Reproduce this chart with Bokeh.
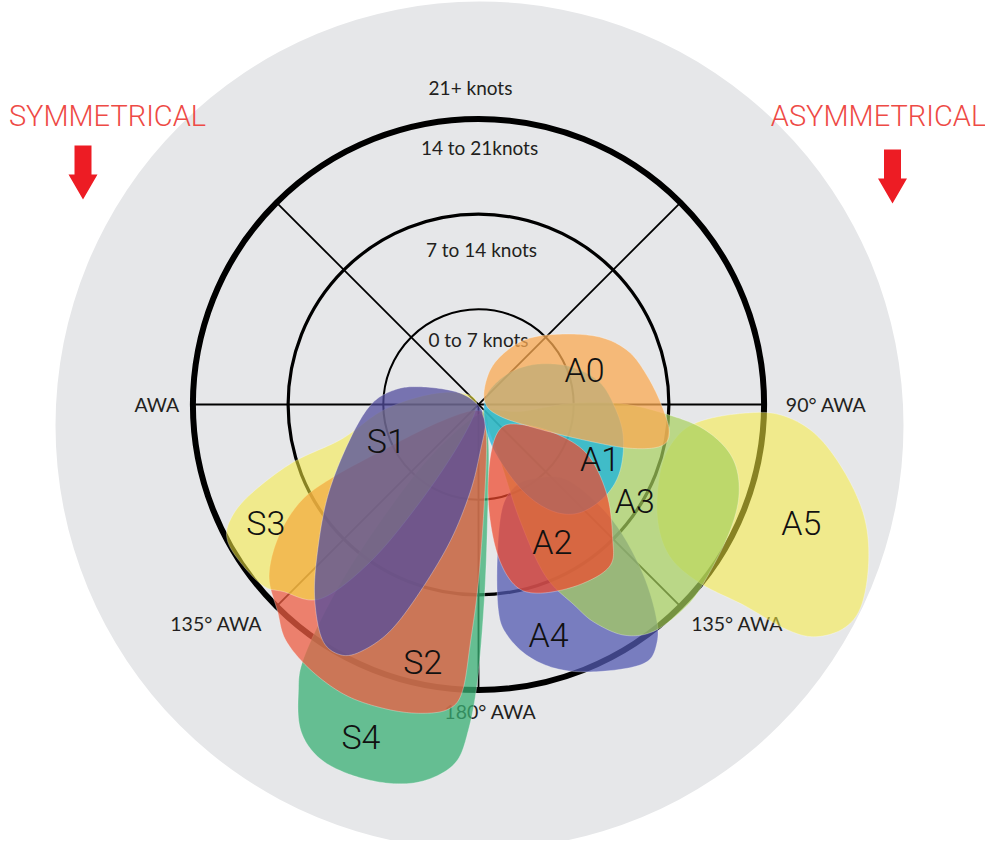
import numpy as np
from bokeh.plotting import figure
from bokeh.models import Range1d
from bokeh.core.properties import value
from bokeh.embed import file_html
from bokeh.resources import INLINE

# ---------------- data ----------------
PX_PER_KNOT = 13.6
RING_KNOTS = [7, 14, 21]
RING_WIDTHS = [2, 3.2, 6]

RING_LABELS = ["0 to 7 knots", "7 to 14 knots", "14 to 21knots", "21+ knots"]
RING_LABEL_KNOTS = [4.8, 11.4, 18.9, 23.3]
RING_LABEL_DX = [0, 3, 1, -8]

# spokes: (side, awa) -> (side, awa)   side +1 = asymmetrical (right), -1 = symmetrical (left)
SPOKES = [((-1, 90), (1, 90)), ((1, 45), (-1, 135)), ((-1, 45), (1, 135)), ((1, 0.0001), (1, 180))]
SPOKE_FROM_CENTER = [False, False, False, True]

AWA_LABELS = ["AWA", "90° AWA", "135° AWA", "135° AWA", "180° AWA"]
AWA_LABEL_SIDE = [-1, 1, -1, 1, 1]
AWA_LABEL_AWA = [90, 90, 129.8, 130.2, 177.8]
AWA_LABEL_KNOTS = [22.0, 22.6, 25.1, 24.9, 22.6]
AWA_LABEL_ALIGN = ["right", "left", "center", "center", "center"]

# sail envelopes: apparent wind angle (deg) and true wind speed (knots)
A0_AWA = [63, 17.8, 24.6, 35.9, 49.1, 60.9, 70.5, 80.6, 90.6, 98.6, 103, 106.1, 108.3, 111.9, 118.6]
A0_TWS = [0.5, 2.2, 3.9, 5.9, 7.9, 10.2, 11.7, 12.6, 13.5, 14.2, 13.7, 11.6, 8.6, 4.9, 1.8]

A1_AWA = [63, 39, 46.6, 56.5, 67.6, 79.1, 90.8, 102.4, 115.3, 125.9, 136.9, 145, 152.2, 158.9, 163.5]
A1_TWS = [0.5, 2.0, 3.7, 5.4, 7.3, 9.0, 10.0, 10.9, 11.5, 11.5, 10.9, 9.6, 7.4, 4.5, 2.1]

A2_AWA = [137.5, 115.5, 110.6, 114.6, 124.9, 134.8, 140.8, 150.5, 161.8, 168.5, 172.8, 174.3, 167]
A2_TWS = [2.4, 3.4, 6.0, 8.8, 11.5, 13.9, 15.3, 15.2, 14.6, 13.6, 11.1, 7.4, 3.9]

A3_AWA = [130, 99.5, 89.4, 89.6, 92.8, 96.3, 101.6, 108.4, 116.7, 127.9, 134, 142, 147.6, 151.9,
          154.4, 158.7, 160.3, 158.9, 157.8]
A3_TWS = [0.6, 3.1, 6.7, 10.4, 13.7, 16.7, 19.0, 20.2, 20.7, 21.1, 21.3, 21.1, 20.1, 18.2,
          16.4, 13.5, 9.1, 4.5, 1.7]

A4_AWA = [167, 155.7, 143.4, 131, 129.7, 131.8, 135.9, 140, 143.2, 147.2, 154.6, 162.3, 168.4, 172.9, 174.5, 172.9]
A4_TWS = [7.8, 6.6, 6.8, 8.3, 11.1, 14.0, 17.4, 20.3, 21.9, 22.6, 21.7, 20.5, 19.0, 17.1, 15.2, 11.2]

A5_AWA = [94.4, 92, 91.9, 94.9, 100.3, 106.1, 111.8, 117.7, 121.5, 124.7, 126.2, 127.1, 128.9, 128.4, 122, 108.6, 99.1]
A5_TWS = [16.3, 19.2, 22.1, 24.8, 27.3, 29.5, 30.9, 31.8, 31.5, 30.0, 27.9, 24.5, 20.9, 17.9, 15.5, 14.2, 14.8]

S1_AWA = [79.8, 72.8, 60.5, 63, 202.4, 182.4, 174.7, 168.4, 162.8, 158.8, 154.8, 151.3, 146.6, 140.2, 133.2, 121.4, 105.9, 90]
S1_TWS = [6.2, 4.4, 1.9, 0.2, 1.3, 3.4, 6.4, 10.2, 14.3, 17.8, 20.0, 21.0, 20.8, 18.8, 16.3, 13.0, 9.9, 7.9]

S2_AWA = [196, 194, 183.5, 180, 178.1, 176.8, 174.4, 169.4, 163, 155.5, 147.8, 140.8, 135.8, 129.3, 123.4, 118.6, 116.6, 115.6, 114.1]
S2_TWS = [0.5, 2.4, 7.1, 13.0, 17.4, 21.1, 22.5, 23.1, 23.4, 23.5, 23.1, 22.4, 21.2, 19.9, 17.6, 14.9, 12.1, 8.0, 3.0]

S3_AWA = [45, 62.4, 82.1, 94.1, 104.2, 107.4, 111.7, 115.1, 118.5, 123.7, 130.1, 133.7, 140.9, 145.5, 149.1, 154.1]
S3_TWS = [0.2, 1.9, 4.3, 7.2, 10.4, 14.4, 18.2, 20.2, 21.0, 21.0, 20.7, 19.9, 18.4, 14.0, 8.3, 3.0]

S4_AWA = [192.5, 195.1, 184.4, 181.7, 179.8, 178.2, 176.3, 172, 167, 161, 155.7, 151.4, 148, 145.4, 142.6, 140, 137.3]
S4_TWS = [0.7, 2.8, 8.6, 14.4, 20.3, 24.0, 26.4, 27.9, 28.6, 28.8, 28.5, 27.3, 25.0, 22.6, 17.2, 11.2, 5.2]

SAIL_NAMES = ["S4", "S2", "S3", "S1", "A4", "A5", "A3", "A1", "A2", "A0"]
SAIL_SIDE = [-1, -1, -1, -1, 1, 1, 1, 1, 1, 1]
SAIL_AWA = [S4_AWA, S2_AWA, S3_AWA, S1_AWA, A4_AWA, A5_AWA, A3_AWA, A1_AWA, A2_AWA, A0_AWA]
SAIL_TWS = [S4_TWS, S2_TWS, S3_TWS, S1_TWS, A4_TWS, A5_TWS, A3_TWS, A1_TWS, A2_TWS, A0_TWS]
SAIL_COLORS = ["#39B074", "#EE5E43", "#F8EC40", "#514C9C", "#535AB0", "#F8EC40", "#A6D05D", "#17B3DE", "#EE482D", "#FAAA52"]
SAIL_ALPHA = [0.75, 0.75, 0.55, 0.75, 0.75, 0.55, 0.7, 0.75, 0.72, 0.75]
SAIL_LABEL_AWA = [160.5, 167.8, 119.1, 111.7, 163.1, 110.2, 121.7, 114.3, 151.8, 71.9]
SAIL_LABEL_TWS = [25.9, 19.4, 17.9, 7.3, 17.7, 25.3, 13.5, 9.8, 11.5, 8.2]

HEADINGS = ["SYMMETRICAL", "ASYMMETRICAL"]

LIGHT_FONT = "Roboto Light, Roboto, Liberation Sans, sans-serif"

# ---------------- helpers ----------------
def polar(side, awa, tws):
    a = np.radians(np.asarray(awa, dtype=float))
    r = np.asarray(tws, dtype=float) * PX_PER_KNOT
    return side * r * np.sin(a), r * np.cos(a)


def closed_spline(xs, ys, n=14):
    pts = np.column_stack([xs, ys])
    N = len(pts)
    out = []
    for i in range(N):
        p0, p1, p2, p3 = pts[(i - 1) % N], pts[i], pts[(i + 1) % N], pts[(i + 2) % N]
        for t in np.linspace(0, 1, n, endpoint=False):
            t2, t3 = t * t, t * t * t
            out.append(0.5 * ((2 * p1) + (-p0 + p2) * t + (2 * p0 - 5 * p1 + 4 * p2 - p3) * t2
                              + (-p0 + 3 * p1 - 3 * p2 + p3) * t3))
    out = np.array(out)
    return out[:, 0], out[:, 1]


# ---------------- figure ----------------
W, H = 985, 840
OFF = 0
CX, CY = 478, 404  # centre of the rose in page pixels
p = figure(width=W, height=H, output_backend="svg", toolbar_location=None,
           x_range=Range1d(OFF - CX, OFF + W - CX), y_range=Range1d(CY - OFF - H, CY - OFF),
           min_border=0, outline_line_color=None, background_fill_color="white")
p.axis.visible = False
p.grid.visible = False

# background disk
p.circle(x=[1], y=[-21], radius=424, fill_color="#E6E7E9", line_color=None)

# rings
for k, w in zip(RING_KNOTS, RING_WIDTHS):
    p.circle(x=[0], y=[0], radius=k * PX_PER_KNOT, fill_color=None, line_color="black", line_width=w)

# spokes
for (s0, a0), (s1, a1), from_c in zip([s[0] for s in SPOKES], [s[1] for s in SPOKES], SPOKE_FROM_CENTER):
    x0, y0 = polar(s0, a0, 0 if from_c else RING_KNOTS[-1])
    x1, y1 = polar(s1, a1, RING_KNOTS[-1])
    p.line([float(x0), float(x1)], [float(y0), float(y1)], line_color="black", line_width=1.8)

# ring labels
p.text(x=RING_LABEL_DX, y=[k * PX_PER_KNOT for k in RING_LABEL_KNOTS], text=RING_LABELS,
       text_font=value("Lato"), text_font_size="19px", text_align="center",
       text_baseline="middle", text_color="#231F20")

# AWA labels
for lab, sd, aw, kn, al in zip(AWA_LABELS, AWA_LABEL_SIDE, AWA_LABEL_AWA, AWA_LABEL_KNOTS, AWA_LABEL_ALIGN):
    x, y = polar(sd, aw, kn)
    p.text(x=[float(x)], y=[float(y)], text=[lab], text_font=value("Lato"), text_font_size="19.5px",
           text_align=al, text_baseline="middle", text_color="#231F20")

# sail envelopes
for name, sd, aw, tw, col, al in zip(SAIL_NAMES, SAIL_SIDE, SAIL_AWA, SAIL_TWS, SAIL_COLORS, SAIL_ALPHA):
    x, y = polar(sd, aw, tw)
    sx, sy = closed_spline(x, y)
    p.patch(sx, sy, fill_color=col, fill_alpha=al, line_color="white", line_alpha=0.3, line_width=1)

# sail labels
for name, sd, aw, tw in zip(SAIL_NAMES, SAIL_SIDE, SAIL_LABEL_AWA, SAIL_LABEL_TWS):
    x, y = polar(sd, aw, tw)
    p.text(x=[float(x)], y=[float(y)], text=[name], text_font=value(LIGHT_FONT),
           text_font_size="34px", text_align="center", text_baseline="middle", text_color="#111111")

# headings and arrows
HEAD_X = [107 - CX, 878 - CX]
ARROW_X = [82.5 - CX, 892 - CX]
ARROW_TOP = [CY - 145, CY - 149]
for txt, hx, ax, at in zip(HEADINGS, HEAD_X, ARROW_X, ARROW_TOP):
    p.text(x=[hx], y=[CY - 115], text=[txt], text_font=value(LIGHT_FONT), text_font_size="29px",
           text_align="center", text_baseline="middle", text_color="#EE4A45")
    sw, hw, sl, hl = 8.5, 14.5, 29, 25
    xs = [ax - sw, ax + sw, ax + sw, ax + hw, ax, ax - hw, ax - sw]
    ys = [at, at, at - sl, at - sl, at - sl - hl, at - sl, at - sl]
    p.patch(xs, ys, fill_color="#ED1C24", line_color=None)

open("out.html", "w").write(file_html(p, INLINE))
